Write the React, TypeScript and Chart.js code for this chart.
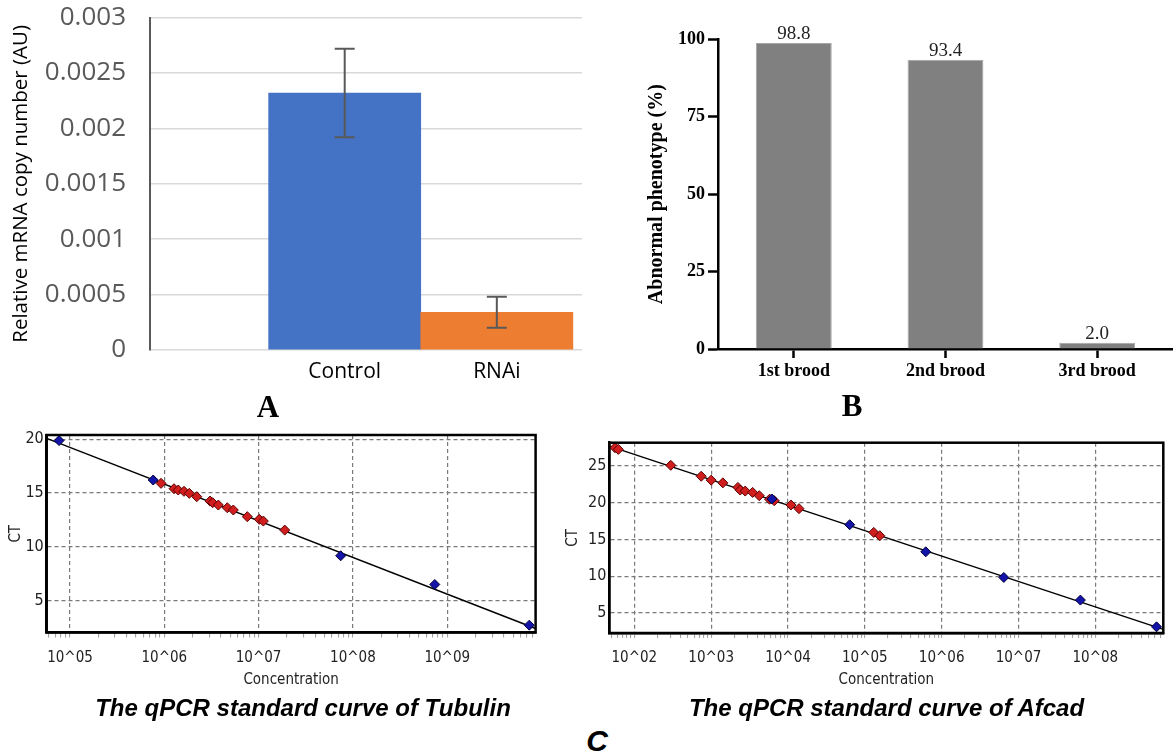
import React, { useEffect, useRef } from 'react';
import { Chart, registerables } from 'chart.js';

Chart.register(...registerables);

// ---------- Panel A data ----------
const aCategories = ['Control', 'RNAi'];
const aPositions = [1, 2];
const aValues = [0.00232, 0.00034];
const aErrors = [0.0004, 0.00014];
const aColors = ['#4472C4', '#ED7D31'];
const aTickValues = [0, 0.0005, 0.001, 0.0015, 0.002, 0.0025, 0.003];
const aTickLabels = ['0', '0.0005', '0.001', '0.0015', '0.002', '0.0025', '0.003'];

// ---------- Panel B data ----------
const bCategories = ['1st brood', '2nd brood', '3rd brood'];
const bValues = [98.8, 93.4, 2.0];
const bTickValues = [0, 25, 50, 75, 100];

// ---------- Panel C (Tubulin) data: log10(concentration), CT ----------
const tubStdLog = [4.884, 5.882, 7.87, 8.868, 9.87];
const tubStdCt = [19.88, 16.21, 9.16, 6.49, 2.7];
const tubSmpLog = [5.965, 6.103, 6.148, 6.209, 6.265, 6.344, 6.485, 6.513, 6.573, 6.668, 6.732, 6.88, 7.007, 7.05, 7.277];
const tubSmpCt = [15.9, 15.4, 15.28, 15.16, 14.97, 14.66, 14.25, 14.1, 13.88, 13.63, 13.42, 12.8, 12.55, 12.39, 11.55];
const tubFitLog = [4.753, 9.937];
const tubFitCt = [20.09, 2.39];
const tubDecades = [5, 6, 7, 8, 9];
const tubDecadeLabels = ['10^05', '10^06', '10^07', '10^08', '10^09'];
const tubCtTicks = [5, 10, 15, 20];

// ---------- Panel C (Afcad) data ----------
const afStdLog = [3.79, 4.803, 5.793, 6.809, 7.806, 8.797];
const afStdCt = [20.5, 17.0, 13.31, 9.82, 6.73, 3.09];
const afSmpLog = [1.748, 1.791, 2.474, 2.87, 3.0, 3.152, 3.348, 3.378, 3.443, 3.539, 3.626, 3.76, 3.821, 4.039, 4.143, 5.116, 5.195];
const afSmpCt = [27.49, 27.26, 25.09, 23.6, 23.07, 22.7, 22.08, 21.72, 21.58, 21.4, 20.95, 20.47, 20.27, 19.69, 19.19, 15.95, 15.5];
const afFitLog = [1.674, 8.885];
const afFitCt = [27.7, 2.74];
const afDecades = [2, 3, 4, 5, 6, 7, 8];
const afDecadeLabels = ['10^02', '10^03', '10^04', '10^05', '10^06', '10^07', '10^08'];
const afCtTicks = [5, 10, 15, 20, 25];

const NARROW = '"Liberation Sans Narrow", "DejaVu Sans Condensed", "Arial Narrow", "Liberation Sans", sans-serif';
const SERIF = '"Liberation Serif", "DejaVu Serif", serif';
const OPEN = '"Open Sans", "Liberation Sans", sans-serif';

// ---------- plugins ----------
const errorBarPlugin = {
  id: 'errorBars',
  afterDatasetsDraw(chart: any) {
    const { ctx } = chart;
    const y = chart.scales.y;
    const meta = chart.getDatasetMeta(0);
    ctx.save();
    ctx.strokeStyle = '#595959';
    ctx.lineWidth = 2;
    meta.data.forEach((bar: any, i: number) => {
      const x = bar.x;
      const top = y.getPixelForValue(aValues[i] + aErrors[i]);
      const bot = y.getPixelForValue(aValues[i] - aErrors[i]);
      ctx.beginPath();
      ctx.moveTo(x, top);
      ctx.lineTo(x, bot);
      ctx.moveTo(x - 10, top);
      ctx.lineTo(x + 10, top);
      ctx.moveTo(x - 10, bot);
      ctx.lineTo(x + 10, bot);
      ctx.stroke();
    });
    ctx.restore();
  },
};

const valueLabelPlugin = {
  id: 'valueLabels',
  afterDatasetsDraw(chart: any) {
    const { ctx } = chart;
    const meta = chart.getDatasetMeta(0);
    ctx.save();
    ctx.fillStyle = '#222';
    ctx.font = '19px ' + SERIF;
    ctx.textAlign = 'center';
    ctx.textBaseline = 'alphabetic';
    meta.data.forEach((bar: any, i: number) => {
      ctx.fillText(bValues[i].toFixed(1), bar.x, bar.y - 4);
    });
    ctx.restore();
  },
};

const boxPlugin = {
  id: 'plotBox',
  afterDraw(chart: any) {
    const { ctx, chartArea: a } = chart;
    ctx.save();
    ctx.strokeStyle = '#000';
    ctx.lineWidth = 2.5;
    ctx.strokeRect(a.left, a.top, a.right - a.left, a.bottom - a.top);
    ctx.restore();
  },
};

// ---------- configs ----------
function configA(): any {
  return {
    type: 'bar',
    data: {
      datasets: [
        {
          data: aPositions.map((x, i) => ({ x, y: aValues[i] })),
          backgroundColor: aColors,
          barPercentage: 1,
          categoryPercentage: 1,
        },
      ],
    },
    options: {
      responsive: false,
      animation: false,
      layout: { padding: { top: 17.7, right: 8, left: 0, bottom: 0 } },
      plugins: { legend: { display: false }, tooltip: { enabled: false } },
      scales: {
        x: {
          type: 'linear',
          min: -0.28,
          max: 2.56,
          offset: false,
          bounds: 'data',
          grid: { display: false, drawTicks: false, offset: false },
          border: { display: false },
          afterBuildTicks: (s: any) => {
            s.ticks = aPositions.map((v) => ({ value: v }));
          },
          ticks: {
            autoSkip: false,
            maxRotation: 0,
            callback: (_v: any, i: number) => aCategories[i],
            font: { family: OPEN, size: 21 },
            color: '#000',
            padding: 9,
          },
          afterFit: (s: any) => {
            s.height = 42;
          },
        },
        y: {
          min: 0,
          max: 0.003,
          afterBuildTicks: (s: any) => {
            s.ticks = aTickValues.map((v) => ({ value: v }));
          },
          ticks: {
            callback: (_v: any, i: number) => aTickLabels[i],
            font: { family: OPEN, size: 26 },
            color: '#595959',
            padding: 2,
          },
          grid: { color: '#d9d9d9', lineWidth: 1.5, drawTicks: true, tickLength: 22, tickColor: 'rgba(0,0,0,0)' },
          border: { color: '#595959', width: 2 },
          title: {
            display: true,
            text: 'Relative mRNA copy number (AU)',
            font: { family: OPEN, size: 20.5 },
            color: '#000',
            padding: { top: 9, bottom: 0 },
          },
          afterFit: (s: any) => {
            s.width = 150;
          },
        },
      },
    },
    plugins: [errorBarPlugin],
  };
}

function configB(): any {
  return {
    type: 'bar',
    data: {
      labels: bCategories,
      datasets: [
        {
          data: bValues,
          backgroundColor: '#808080',
          borderColor: '#a6a6a6',
          borderWidth: 1,
          barPercentage: 0.5,
          categoryPercentage: 1,
        },
      ],
    },
    options: {
      responsive: false,
      animation: false,
      layout: { padding: { top: 39.3, right: 0, left: 0, bottom: 0 } },
      plugins: { legend: { display: false }, tooltip: { enabled: false } },
      scales: {
        x: {
          grid: { display: true, drawOnChartArea: false, offset: false, tickLength: 9, tickWidth: 2.5, tickColor: '#000' },
          border: { color: '#000', width: 2.5 },
          ticks: {
            font: { family: SERIF, size: 18, weight: 'bold' },
            color: '#000',
            padding: 3,
            maxRotation: 0,
          },
          afterFit: (s: any) => {
            s.height = 43;
          },
        },
        y: {
          min: 0,
          max: 100,
          afterBuildTicks: (s: any) => {
            s.ticks = bTickValues.map((v) => ({ value: v }));
          },
          ticks: {
            font: { family: SERIF, size: 18, weight: 'bold' },
            color: '#000',
            padding: 3,
          },
          grid: { drawOnChartArea: false, tickLength: 10, tickWidth: 2.5, tickColor: '#000' },
          border: { color: '#000', width: 2.5 },
          title: {
            display: true,
            text: 'Abnormal phenotype (%)',
            font: { family: SERIF, size: 20, weight: 'bold' },
            color: '#000',
            padding: { top: 55, bottom: 0 },
          },
          afterFit: (s: any) => {
            s.width = 128;
          },
        },
      },
    },
    plugins: [valueLabelPlugin],
  };
}

interface CurveParams {
  stdLog: number[];
  stdCt: number[];
  smpLog: number[];
  smpCt: number[];
  fitLog: number[];
  fitCt: number[];
  decades: number[];
  decadeLabels: string[];
  ctTicks: number[];
  xMinExp: number;
  xMaxExp: number;
  yMin: number;
  yMax: number;
  padTop: number;
  padRight: number;
  yAxisWidth: number;
  xAxisHeight: number;
  ctPad: number;
  xLabelPad: number;
}

function logTicks(minExp: number, maxExp: number) {
  const out: any[] = [];
  const lo = Math.pow(10, minExp);
  const hi = Math.pow(10, maxExp);
  for (let n = Math.floor(minExp); n <= Math.ceil(maxExp); n++) {
    for (let k = 1; k <= 9; k++) {
      const v = k * Math.pow(10, n);
      if (v >= lo && v <= hi) out.push({ value: v, major: k === 1 });
    }
  }
  return out;
}

function configCurve(p: CurveParams): any {
  const toPts = (logs: number[], cts: number[]) => logs.map((l, i) => ({ x: Math.pow(10, l), y: cts[i] }));
  const tickFont = { family: NARROW, size: 15 };
  return {
    type: 'scatter',
    data: {
      datasets: [
        {
          data: toPts(p.stdLog, p.stdCt),
          pointStyle: 'rectRot',
          pointRadius: 5,
          backgroundColor: '#1414a8',
          borderColor: '#00003a',
          borderWidth: 1,
          order: 1,
        },
        {
          data: toPts(p.smpLog, p.smpCt),
          pointStyle: 'rectRot',
          pointRadius: 5,
          backgroundColor: '#d01e1e',
          borderColor: '#5c0000',
          borderWidth: 1,
          order: 2,
        },
        {
          data: toPts(p.fitLog, p.fitCt),
          showLine: true,
          borderColor: '#000',
          borderWidth: 1.5,
          pointRadius: 0,
          order: 3,
        },
      ],
    },
    options: {
      responsive: false,
      animation: false,
      layout: { padding: { top: p.padTop, right: p.padRight, left: 0, bottom: 0 } },
      plugins: { legend: { display: false }, tooltip: { enabled: false } },
      scales: {
        x: {
          type: 'logarithmic',
          min: Math.pow(10, p.xMinExp),
          max: Math.pow(10, p.xMaxExp),
          afterBuildTicks: (s: any) => {
            s.ticks = logTicks(p.xMinExp, p.xMaxExp);
          },
          ticks: {
            autoSkip: false,
            maxRotation: 0,
            font: tickFont,
            color: '#222',
            padding: p.xLabelPad,
            callback: (v: number, i: number, ticks: any[]) => {
              if (!ticks[i] || !ticks[i].major) return '';
              const idx = p.decades.indexOf(Math.round(Math.log10(v)));
              return idx >= 0 ? p.decadeLabels[idx] : '';
            },
          },
          grid: {
            color: (ctx: any) => (ctx.tick && ctx.tick.major ? '#7a7a7a' : 'rgba(0,0,0,0)'),
            lineWidth: 1.2,
            tickLength: 5,
            tickColor: '#9a9a9a',
            tickWidth: 1,
          },
          border: { color: '#000', width: 2.5, dash: [4, 3] },
          title: {
            display: true,
            text: 'Concentration',
            font: { family: NARROW, size: 15 },
            color: '#222',
            padding: { top: 0, bottom: 11 },
          },
          afterFit: (s: any) => {
            s.height = p.xAxisHeight;
          },
        },
        y: {
          min: p.yMin,
          max: p.yMax,
          afterBuildTicks: (s: any) => {
            s.ticks = p.ctTicks.map((v) => ({ value: v }));
          },
          ticks: { font: { family: NARROW, size: 16 }, color: '#222', padding: 3 },
          grid: { color: '#7a7a7a', lineWidth: 1.2, drawTicks: false },
          border: { color: '#000', width: 2.5, dash: [4, 3] },
          title: {
            display: true,
            text: 'CT',
            font: { family: NARROW, size: 15 },
            color: '#222',
            padding: { top: p.ctPad, bottom: 0 },
          },
          afterFit: (s: any) => {
            s.width = p.yAxisWidth;
          },
        },
      },
    },
    plugins: [boxPlugin],
  };
}

const tubulinParams: CurveParams = {
  stdLog: tubStdLog,
  stdCt: tubStdCt,
  smpLog: tubSmpLog,
  smpCt: tubSmpCt,
  fitLog: tubFitLog,
  fitCt: tubFitCt,
  decades: tubDecades,
  decadeLabels: tubDecadeLabels,
  ctTicks: tubCtTicks,
  xMinExp: 4.753,
  xMaxExp: 9.937,
  yMin: 2.02,
  yMax: 20.4,
  padTop: 15,
  padRight: 24.4,
  yAxisWidth: 46.7,
  xAxisHeight: 67.5,
  ctPad: 7,
  xLabelPad: 11.5,
};

const afcadParams: CurveParams = {
  stdLog: afStdLog,
  stdCt: afStdCt,
  smpLog: afSmpLog,
  smpCt: afSmpCt,
  fitLog: afFitLog,
  fitCt: afFitCt,
  decades: afDecades,
  decadeLabels: afDecadeLabels,
  ctTicks: afCtTicks,
  xMinExp: 1.674,
  xMaxExp: 8.885,
  yMin: 2.25,
  yMax: 28.17,
  padTop: 22.7,
  padRight: 9.7,
  yAxisWidth: 49.3,
  xAxisHeight: 67,
  ctPad: 4,
  xLabelPad: 11.5,
};

// ---------- components ----------
function ChartCanvas(props: { left: number; top: number; width: number; height: number; make: () => any }) {
  const ref = useRef<HTMLCanvasElement | null>(null);
  useEffect(() => {
    if (!ref.current) return;
    const chart = new Chart(ref.current, props.make());
    return () => chart.destroy();
  }, []);
  return (
    <canvas
      ref={ref}
      width={props.width}
      height={props.height}
      style={{
        position: 'absolute',
        left: props.left,
        top: props.top,
        width: props.width,
        height: props.height,
        display: 'block',
      }}
    />
  );
}

function Label(props: { x: number; y: number; text: string; font: string; size: number; bold?: boolean; italic?: boolean }) {
  return (
    <div
      style={{
        position: 'absolute',
        left: props.x,
        top: props.y,
        transform: 'translate(-50%, -50%)',
        whiteSpace: 'nowrap',
        lineHeight: 1,
        fontFamily: props.font,
        fontSize: props.size,
        fontWeight: props.bold ? 'bold' : 'normal',
        fontStyle: props.italic ? 'italic' : 'normal',
        color: '#000',
      }}
    >
      {props.text}
    </div>
  );
}

const SANS = '"Liberation Sans", Arial, sans-serif';

export default function App() {
  return (
    <div
      style={{
        position: 'absolute',
        left: 0,
        top: 0,
        width: 1173,
        height: 756,
        background: '#fff',
        overflow: 'hidden',
      }}
    >
      <ChartCanvas left={0} top={0} width={590} height={392} make={configA} />
      <ChartCanvas left={590} top={0} width={583} height={392} make={configB} />
      <ChartCanvas left={0} top={420} width={560} height={280} make={() => configCurve(tubulinParams)} />
      <ChartCanvas left={560} top={420} width={613} height={280} make={() => configCurve(afcadParams)} />
      <Label x={268} y={406} text="A" font={SERIF} size={31} bold />
      <Label x={852} y={405} text="B" font={SERIF} size={31} bold />
      <Label x={303} y={708} text="The qPCR standard curve of Tubulin" font={SANS} size={24} bold italic />
      <Label x={886.5} y={708} text="The qPCR standard curve of Afcad" font={SANS} size={24} bold italic />
      <Label x={597} y={741} text="C" font={SANS} size={30} bold italic />
    </div>
  );
}
